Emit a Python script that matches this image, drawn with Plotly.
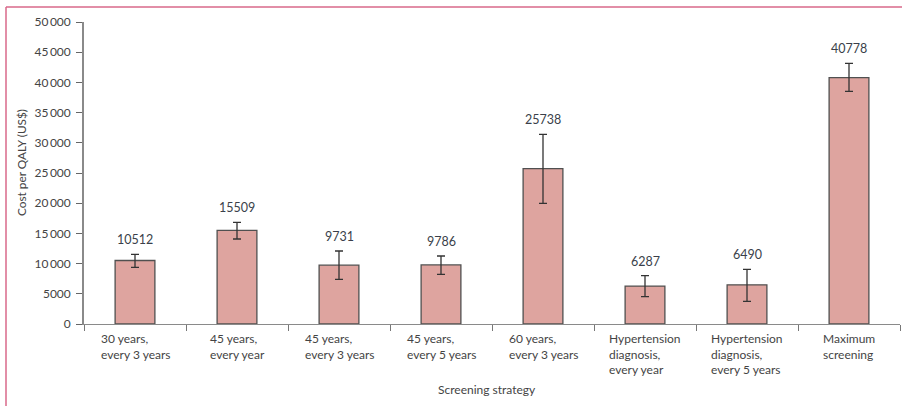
import plotly.graph_objects as go

categories = [
    "30 years,<br>every 3 years",
    "45 years,<br>every year",
    "45 years,<br>every 3 years",
    "45 years,<br>every 5 years",
    "60 years,<br>every 3 years",
    "Hypertension<br>diagnosis,<br>every year",
    "Hypertension<br>diagnosis,<br>every 5 years",
    "Maximum<br>screening",
]
cost_per_qaly = [10512, 15509, 9731, 9786, 25738, 6287, 6490, 40778]
ci_upper = [11540, 16840, 12090, 11260, 31410, 8000, 9060, 43160]
ci_lower = [9390, 14070, 7400, 8230, 19980, 4520, 3760, 38530]
y_tickvals = [0, 5000, 10000, 15000, 20000, 25000, 30000, 35000, 40000, 45000, 50000]
y_ticktext = ["0", "5000", "10\u2009000", "15\u2009000", "20\u2009000", "25\u2009000",
              "30\u2009000", "35\u2009000", "40\u2009000", "45\u2009000", "50\u2009000"]

W, H = 902, 406
L, R, T, B = 84, 2, 22, 82
PW, PH = W - L - R, H - T - B


def px(x):
    return (x - L) / PW


def py(y):
    return (H - B - y) / PH


FONT = "Lato, Open Sans, sans-serif"
TXT = "#444444"

keys = list(range(len(categories)))

fig = go.Figure()
fig.add_trace(go.Bar(
    x=keys,
    y=cost_per_qaly,
    width=0.39,
    marker=dict(color="#dea49f", line=dict(color="#505050", width=1.3)),
    error_y=dict(
        type="data",
        symmetric=False,
        array=[u - v for u, v in zip(ci_upper, cost_per_qaly)],
        arrayminus=[v - l for v, l in zip(cost_per_qaly, ci_lower)],
        color="#333333",
        thickness=1.3,
        width=4,
    ),
    hoverinfo="skip",
))

annotations = []
for k, v, u in zip(keys, cost_per_qaly, ci_upper):
    annotations.append(dict(
        x=k, y=u, xref="x", yref="y", text=str(v), showarrow=False,
        yanchor="bottom", yshift=5, font=dict(family=FONT, size=12.5, color="#3a3f4a"),
    ))
for k, c in zip(keys, categories):
    annotations.append(dict(
        x=k, y=0, xref="x", yref="paper", text=c, showarrow=False,
        yanchor="top", yshift=-5, align="left",
        font=dict(family=FONT, size=12, color=TXT),
    ))
annotations.append(dict(
    x=px(487), y=py(389), xref="paper", yref="paper", text="Screening strategy",
    showarrow=False, xanchor="center", yanchor="middle",
    font=dict(family=FONT, size=12, color=TXT),
))
annotations.append(dict(
    x=px(21), y=py(163), xref="paper", yref="paper", text="Cost per QALY (US$)",
    showarrow=False, xanchor="center", yanchor="middle", textangle=-90,
    font=dict(family=FONT, size=11.8, color=TXT),
))

border = "#d9688a"
shapes = [
    dict(type="line", xref="paper", yref="paper", x0=px(6), x1=px(902), y0=py(7), y1=py(7),
         line=dict(color=border, width=1.5)),
    dict(type="line", xref="paper", yref="paper", x0=px(6), x1=px(6), y0=py(7), y1=py(406),
         line=dict(color=border, width=1.5)),
]

fig.update_layout(
    width=W, height=H,
    margin=dict(l=L, r=R, t=T, b=B),
    paper_bgcolor="white", plot_bgcolor="white",
    showlegend=False,
    annotations=annotations,
    shapes=shapes,
    xaxis=dict(
        type="linear", range=[-0.5, len(categories) - 0.5],
        tickvals=[k - 0.5 for k in keys] + [len(categories) - 0.5],
        showticklabels=False,
        ticks="outside", ticklen=6, tickcolor="#777777", tickwidth=1,
        showline=True, linecolor="#8a8a8a", linewidth=1.2,
        showgrid=False, zeroline=False, fixedrange=True,
    ),
    yaxis=dict(
        range=[0, 50000],
        tickvals=y_tickvals, ticktext=y_ticktext,
        ticks="outside", ticklen=6, tickcolor="#666666", tickwidth=1.2,
        showline=True, linecolor="#8a8a8a", linewidth=1.6,
        showgrid=False, zeroline=False,
        tickfont=dict(family=FONT, size=12, color=TXT),
        ticklabelstandoff=3,
    ),
)

fig.write_html(
    "out.html",
    config={"displayModeBar": False},
    post_script="document.body.style.margin='0';document.body.style.overflow='hidden';",
)
